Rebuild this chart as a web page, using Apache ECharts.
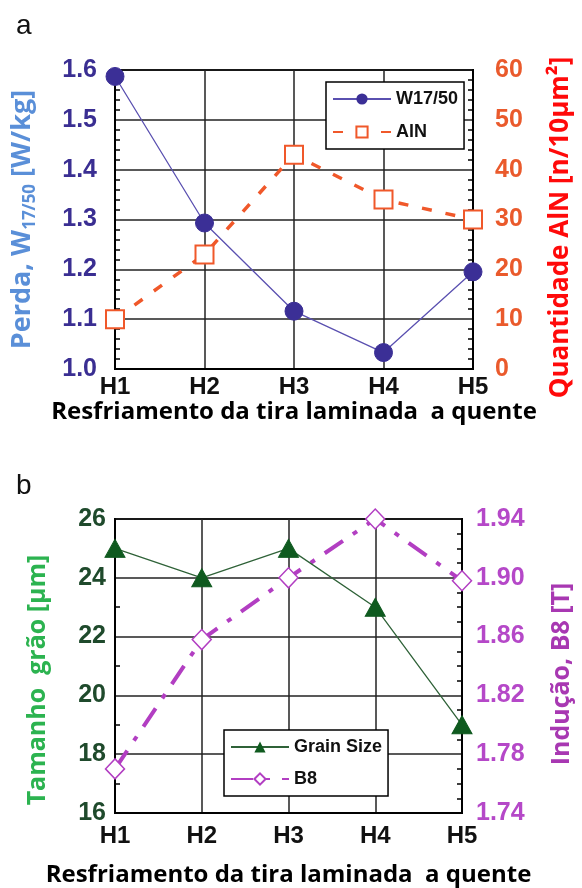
<!DOCTYPE html>
<html>
<head>
<meta charset="utf-8">
<script src="https://cdn.jsdelivr.net/npm/echarts@6/dist/echarts.min.js"></script>
<style>
html,body{margin:0;padding:0;background:#fff;}
#c{width:582px;height:888px;}
</style>
</head>
<body>
<div id="c"></div>
<script>
const categories = ['H1', 'H2', 'H3', 'H4', 'H5'];
const w1750 = [1.587, 1.293, 1.116, 1.033, 1.195];
const aln = [10, 23, 43, 34, 30];
const grainSize = [25, 24, 25, 23, 19];
const b8 = [1.770, 1.858, 1.900, 1.940, 1.898];
const xTitle = 'Resfriamento da tira laminada  a quente';

const ARIAL = 'Liberation Sans';
const CAL = 'Open Sans';

const chart = echarts.init(document.getElementById('c'), null, {renderer: 'canvas'});

function xAxisCfg(gi, gap, margin) {
  return {
    type: 'category', gridIndex: gi, data: categories, boundaryGap: false,
    axisLine: {show: true, lineStyle: {color: '#000', width: 2}},
    axisTick: {show: false},
    splitLine: {show: true, lineStyle: {color: '#222', width: 1.5}},
    axisLabel: {color: '#111', fontFamily: ARIAL, fontWeight: 'bold', fontSize: 24, margin: margin},
    name: xTitle, nameLocation: 'middle', nameGap: gap,
    nameTextStyle: {color: '#000', fontFamily: CAL, fontWeight: 'bold', fontSize: 24}
  };
}

function yAxisCfg(o) {
  return Object.assign({
    type: 'value', nameLocation: 'middle', nameRotate: 90,
    axisLine: {show: true, lineStyle: {color: '#000', width: 2}},
    axisTick: {show: false, inside: true},
    minorTick: {show: true, splitNumber: 5, length: 5, lineStyle: {color: '#000', width: 1.5}},
    splitLine: {show: false}
  }, o);
}

const option = {
  animation: false,
  backgroundColor: '#fff',
  graphic: [
    {type: 'text', left: 16, top: 12, style: {text: 'a', font: '28px "Liberation Sans"', fill: '#111'}},
    {type: 'text', left: 16, top: 472, style: {text: 'b', font: '28px "Liberation Sans"', fill: '#111'}}
  ],
  grid: [
    {left: 115, right: 104, top: 70, height: 299, show: true, borderColor: '#000', borderWidth: 2, backgroundColor: 'transparent'},
    {left: 115, right: 118, top: 519, height: 295, show: true, borderColor: '#000', borderWidth: 2, backgroundColor: 'transparent'}
  ],
  legend: [
    {
      data: ['W17/50', 'AlN'], orient: 'vertical', left: 326, top: 82,
      itemWidth: 58, itemHeight: 14, itemGap: 15, padding: [8, 6, 8, 6],
      borderColor: '#000', borderWidth: 1.5, backgroundColor: '#fff',
      textStyle: {color: '#111', fontFamily: ARIAL, fontWeight: 'bold', fontSize: 18}
    },
    {
      data: ['Grain Size', 'B8'], orient: 'vertical', left: 224, top: 730,
      itemWidth: 58, itemHeight: 14, itemGap: 14, padding: [8, 6, 8, 6],
      borderColor: '#000', borderWidth: 1.5, backgroundColor: '#fff',
      textStyle: {color: '#111', fontFamily: ARIAL, fontWeight: 'bold', fontSize: 18}
    }
  ],
  xAxis: [xAxisCfg(0, 29, 6), xAxisCfg(1, 50, 11)],
  yAxis: [
    yAxisCfg({
      gridIndex: 0, position: 'left', min: 1.0, max: 1.6, interval: 0.1,
      splitLine: {show: true, lineStyle: {color: '#222', width: 1.5}},
      axisLabel: {color: '#3a2e92', fontFamily: ARIAL, fontWeight: 'bold', fontSize: 25, margin: 18,
        formatter: v => v.toFixed(1)},
      name: '{a|Perda, W}{s|17/50}{a| [W/kg]}', nameGap: 76,
      nameTextStyle: {
        rich: {
          a: {color: '#5a8fd8', fontFamily: CAL, fontWeight: 'bold', fontSize: 27, lineHeight: 34},
          s: {color: '#5a8fd8', fontFamily: CAL, fontWeight: 'bold', fontSize: 17, lineHeight: 17, verticalAlign: 'bottom'}
        }
      }
    }),
    yAxisCfg({
      gridIndex: 0, position: 'right', min: 0, max: 60, interval: 10,
      axisLabel: {color: '#ea5a2c', fontFamily: ARIAL, fontWeight: 'bold', fontSize: 25, margin: 22},
      name: 'Quantidade AlN [n/10μm²]', nameGap: 75,
      nameTextStyle: {color: '#ff0a0a', fontFamily: CAL, fontWeight: 'bold', fontSize: 26, padding: [0, 16, 0, 0]}
    }),
    yAxisCfg({
      gridIndex: 1, position: 'left', min: 16, max: 26, interval: 2,
      minorTick: {show: true, splitNumber: 2, length: 5, lineStyle: {color: '#000', width: 1.5}},
      splitLine: {show: true, lineStyle: {color: '#222', width: 1.5}},
      axisLabel: {color: '#1f4a2c', fontFamily: ARIAL, fontWeight: 'bold', fontSize: 25, margin: 9},
      name: 'Tamanho  grão [μm]', nameGap: 65,
      nameTextStyle: {color: '#2cb350', fontFamily: CAL, fontWeight: 'bold', fontSize: 25, padding: [0, 28, 0, 0]}
    }),
    yAxisCfg({
      gridIndex: 1, position: 'right', min: 1.74, max: 1.94, alignTicks: true,
      minorTick: {show: true, splitNumber: 4, length: 5, lineStyle: {color: '#000', width: 1.5}},
      axisLabel: {color: '#b548c8', fontFamily: ARIAL, fontWeight: 'bold', fontSize: 25, margin: 14,
        formatter: v => v.toFixed(2)},
      name: 'Indução, B8 [T]', nameGap: 87,
      nameTextStyle: {color: '#a838b2', fontFamily: CAL, fontWeight: 'bold', fontSize: 25, padding: [0, 16, 0, 0]}
    })
  ],
  series: [
    {
      name: 'AlN', type: 'line', xAxisIndex: 0, yAxisIndex: 1, data: aln,
      symbol: 'rect', symbolSize: 18,
      lineStyle: {color: '#f0582a', width: 3.5, type: [10, 14]},
      itemStyle: {color: '#fff', borderColor: '#f0582a', borderWidth: 2}
    },
    {
      name: 'W17/50', type: 'line', xAxisIndex: 0, yAxisIndex: 0, data: w1750,
      symbol: 'circle', symbolSize: 18,
      lineStyle: {color: '#5a50b0', width: 1.3},
      itemStyle: {color: '#3b2f96', borderColor: '#3b2f96'}
    },
    {
      name: 'B8', type: 'line', xAxisIndex: 1, yAxisIndex: 3, data: b8,
      symbol: 'diamond', symbolSize: [19, 20],
      lineStyle: {color: '#b23ec2', width: 4, type: [22, 12, 5, 12]},
      itemStyle: {color: '#fff', borderColor: '#b23ec2', borderWidth: 1.5}
    },
    {
      name: 'Grain Size', type: 'line', xAxisIndex: 1, yAxisIndex: 2, data: grainSize,
      symbol: 'triangle', symbolSize: [20, 18],
      lineStyle: {color: '#2f6238', width: 1.3},
      itemStyle: {color: '#0f5a1f', borderColor: '#0f5a1f'}
    }
  ]
};
chart.setOption(option);
</script>
</body>
</html>
